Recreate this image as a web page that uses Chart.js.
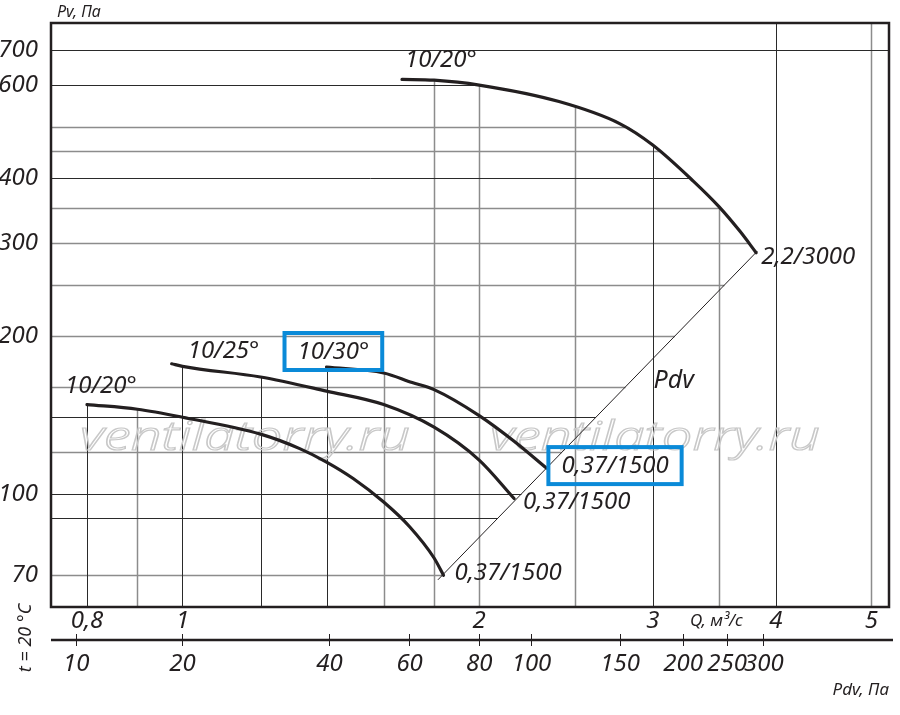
<!DOCTYPE html>
<html>
<head>
<meta charset="utf-8">
<script src="https://cdn.jsdelivr.net/npm/chart.js@4.4.1/dist/chart.umd.min.js"></script>
<style>
  html, body { margin: 0; padding: 0; background: #fff; }
  #wrap { width: 900px; height: 715px; position: relative; }
</style>
</head>
<body>
<div id="wrap"><canvas id="chart"></canvas></div>
<script>
// fan curves: Q, m3/s  ->  Pv, Pa
const qSmall20 = [0.8, 0.9, 1.0, 1.2, 1.315, 1.4, 1.49, 1.6, 1.7, 1.8, 1.84];
const pSmall20 = [148, 145, 140, 130, 122, 115, 107, 96.5, 86.6, 75.5, 70];
const qSmall25 = [0.975, 1.0, 1.2, 1.4, 1.6, 1.8, 2.0, 2.17];
const pSmall25 = [177, 175, 167, 157, 148, 134, 116, 98];
const qSmall30 = [1.4, 1.6, 1.71, 1.8, 2.0, 2.17, 2.34];
const pSmall30 = [174.5, 170, 163, 158, 141, 126, 112];
const qBig20 = [1.67, 1.8, 2.0, 2.41, 2.78, 3.0, 3.3, 3.5, 3.68, 3.82];
const pBig20 = [616, 614, 601, 559, 507, 462, 394, 353, 316, 288];

// dynamic pressure line
const qPdv = [1.816, 3.83];
const pPdv = [68.6, 290];

const curveNames = ['10/20°', '10/25°', '10/30°', '10/20°'];
const motorLabels = ['0,37/1500', '0,37/1500', '0,37/1500', '2,2/3000'];

const qTicks = [0.8, 1, 2, 3, 4, 5];
const pvTicks = [70, 100, 200, 300, 400, 600, 700];
const pdvTicks = [10, 20, 40, 60, 80, 100, 150, 200, 250, 300];
const pdvTickAtQ = [0.78, 1.0, 1.41, 1.70, 2.0, 2.26, 2.78, 3.22, 3.57, 3.89];

const qGridDark = [0.8, 1, 1.2, 1.4, 3, 4];
const qGridLight = [0.9, 1.6, 1.8, 2, 2.5, 3.5, 5];
const pvGridDark = [700, 600, 400, 140, 100, 90];
const pvGridLight = [500, 450, 350, 300, 250, 200, 160, 120, 70];

const INK = '#231f20';
const BLUE = '#0a8ad8';
const FONT = '"Noto Sans", sans-serif';

const pts = (xs, ys) => xs.map((x, i) => ({ x, y: ys[i] }));

// P on a curve at q (straight in log-log between points), null outside
function valueAt(xs, ys, q) {
    const n = xs.length;
    if (q < xs[0] - 1e-6 || q > xs[n - 1] + 1e-6) return null;
    for (let i = 0; i < n - 1; i++) {
        if (q <= xs[i + 1] + 1e-6) {
            const t = (Math.log(q) - Math.log(xs[i])) / (Math.log(xs[i + 1]) - Math.log(xs[i]));
            return Math.exp(Math.log(ys[i]) + t * (Math.log(ys[i + 1]) - Math.log(ys[i])));
        }
    }
    return ys[n - 1];
}

// first Q where a curve reaches level p
function crossingAt(xs, ys, p) {
    for (let i = 0; i < xs.length - 1; i++) {
        const a = ys[i], b = ys[i + 1];
        if (a !== b && (p - a) * (p - b) <= 0) {
            const t = (Math.log(p) - Math.log(a)) / (Math.log(b) - Math.log(a));
            return Math.exp(Math.log(xs[i]) + t * (Math.log(xs[i + 1]) - Math.log(xs[i])));
        }
    }
    return null;
}

function drawText(ctx, s, x, y, size, align, boxed) {
    ctx.save();
    ctx.font = `italic ${size}px ${FONT}`;
    ctx.fillStyle = INK;
    ctx.textAlign = align || 'left';
    ctx.textBaseline = 'middle';
    ctx.fillText(s, x, y);
    if (boxed) {
        const w = ctx.measureText(s).width;
        ctx.strokeStyle = BLUE;
        ctx.lineWidth = 4;
        ctx.strokeRect(x - 13, y - 19, w + 26, 37);
    }
    ctx.restore();
}

const fanCurves = [[qSmall20, pSmall20], [qSmall25, pSmall25], [qSmall30, pSmall30], [qBig20, pBig20]];

// grid lines stop where they meet the curves, as on the original sheet
const clippedGrid = {
    id: 'clippedGrid',
    beforeDatasetsDraw(chart) {
        const { ctx, chartArea: area, scales: { x, y } } = chart;
        ctx.save();
        const style = (dark) => {
            ctx.strokeStyle = dark ? '#2a2a2a' : '#8c8c8c';
            ctx.lineWidth = dark ? 1 : 1.5;
        };
        const vLine = (q, dark) => {
            let top = null;
            fanCurves.forEach(([xs, ys]) => {
                const p = valueAt(xs, ys, q);
                if (p !== null && (top === null || p > top)) top = p;
            });
            const px = Math.round(x.getPixelForValue(q)) + 0.5;
            const yTop = top === null ? area.top : y.getPixelForValue(top);
            style(dark);
            ctx.beginPath();
            ctx.moveTo(px, area.bottom);
            ctx.lineTo(px, yTop);
            ctx.stroke();
        };
        const hLine = (p, dark) => {
            let qEnd = null;
            [[qBig20, pBig20], [qPdv, pPdv]].forEach(([xs, ys]) => {
                const q = crossingAt(xs, ys, p);
                if (q !== null && (qEnd === null || q < qEnd)) qEnd = q;
            });
            const py = Math.round(y.getPixelForValue(p)) + 0.5;
            const xEnd = qEnd === null ? area.right : x.getPixelForValue(qEnd);
            style(dark);
            ctx.beginPath();
            ctx.moveTo(area.left, py);
            ctx.lineTo(xEnd, py);
            ctx.stroke();
        };
        qGridLight.forEach(q => vLine(q, false));
        pvGridLight.forEach(p => hLine(p, false));
        qGridDark.forEach(q => vLine(q, true));
        pvGridDark.forEach(p => hLine(p, true));

        // watermark
        ctx.font = `italic 300 40px ${FONT}`;
        ctx.strokeStyle = '#c8c8c8';
        ctx.lineWidth = 1.2;
        ctx.textBaseline = 'alphabetic';
        const mark = 'ventilatorry.ru';
        const w = ctx.measureText(mark).width;
        [80, 490].forEach(left => {
            ctx.save();
            ctx.translate(left, 450);
            ctx.scale(330 / w, 1);
            ctx.strokeText(mark, 0, 0);
            ctx.restore();
        });
        ctx.restore();
    },
    afterDraw(chart) {
        const { ctx, chartArea: area, scales } = chart;
        ctx.save();
        // frame
        ctx.strokeStyle = INK;
        ctx.lineWidth = 2.5;
        ctx.strokeRect(area.left, area.top, area.right - area.left, area.bottom - area.top);

        // Pdv axis line
        const x2 = scales.x2;
        ctx.lineWidth = 2.5;
        ctx.beginPath();
        ctx.moveTo(area.left, x2.top + 6);
        ctx.lineTo(area.right + 4, x2.top + 6);
        ctx.stroke();
        ctx.restore();

        // curve labels
        chart.data.datasets.forEach((ds, i) => {
            const el = chart.getDatasetMeta(i).data;
            if (!el.length) return;
            if (ds.startLabel) {
                const p = el[0];
                drawText(ctx, ds.startLabel, p.x + ds.startOff[0], p.y + ds.startOff[1], 24, 'left', ds.boxStart);
            }
            if (ds.endLabel) {
                const p = el[el.length - 1];
                drawText(ctx, ds.endLabel, p.x + ds.endOff[0], p.y + ds.endOff[1], 24, 'left', ds.boxEnd);
            }
            if (ds.midLabel) {
                const a = el[0], b = el[el.length - 1];
                const t = ds.midAt;
                drawText(ctx, ds.midLabel, a.x + (b.x - a.x) * t + 24, a.y + (b.y - a.y) * t - 2, 25, 'left');
            }
        });

        // axis captions
        drawText(ctx, 'Pv, Па', area.left + 6, area.top - 11, 16, 'left');
        drawText(ctx, 'Q, м³/с', 690, area.bottom + 14, 17, 'left');
        drawText(ctx, 'Pdv, Па', area.right, 690, 17, 'right');
        ctx.save();
        ctx.translate(26, 638);
        ctx.rotate(-Math.PI / 2);
        drawText(ctx, 't = 20 °C', 0, 0, 18, 'center');
        ctx.restore();
    }
};

const curveStyle = {
    borderColor: INK,
    borderWidth: 3.2,
    borderCapStyle: 'round',
    pointRadius: 0,
    fill: false,
    cubicInterpolationMode: 'monotone'
};

const datasets = [
    { ...curveStyle, data: pts(qSmall20, pSmall20),
      startLabel: curveNames[0], startOff: [-22, -18], endLabel: motorLabels[0], endOff: [11, -2] },
    { ...curveStyle, data: pts(qSmall25, pSmall25),
      startLabel: curveNames[1], startOff: [16, -13], endLabel: motorLabels[1], endOff: [9, 4] },
    { ...curveStyle, data: pts(qSmall30, pSmall30),
      startLabel: curveNames[2], startOff: [-29, -15], boxStart: true,
      endLabel: motorLabels[2], endOff: [15, -2], boxEnd: true },
    { ...curveStyle, data: pts(qBig20, pBig20),
      startLabel: curveNames[3], startOff: [3, -19], endLabel: motorLabels[3], endOff: [5, 4] },
    { data: pts(qPdv, pPdv), borderColor: INK, borderWidth: 1, pointRadius: 0, tension: 0,
      midLabel: 'Pdv', midAt: 0.6 }
];

const tickFont = { family: FONT, size: 24, style: 'italic' };
const Q_MIN = 0.7355, Q_MAX = 5.21;

new Chart(document.getElementById('chart'), {
    type: 'line',
    data: { datasets },
    plugins: [clippedGrid],
    options: {
        responsive: true,
        maintainAspectRatio: false,
        animation: false,
        layout: { padding: { top: 23, right: 11, left: 0, bottom: 0 } },
        plugins: { legend: { display: false }, tooltip: { enabled: false } },
        scales: {
            x: {
                type: 'logarithmic',
                position: 'bottom',
                bounds: 'data',
                weight: 0,
                min: Q_MIN, max: Q_MAX,
                grid: { display: false },
                border: { display: false },
                afterBuildTicks: s => { s.ticks = qTicks.map(v => ({ value: v })); },
                afterFit: s => { s.height = 27; },
                ticks: {
                    autoSkip: false, maxRotation: 0, padding: -8,
                    color: INK, font: tickFont,
                    callback: v => String(v).replace('.', ',')
                }
            },
            x2: {
                type: 'logarithmic',
                position: 'bottom',
                bounds: 'data',
                weight: 1,
                min: Q_MIN, max: Q_MAX,
                grid: { display: true, drawOnChartArea: false, drawTicks: true, tickLength: 12, color: INK, lineWidth: 1 },
                border: { display: false },
                afterBuildTicks: s => { s.ticks = pdvTickAtQ.map(v => ({ value: v })); },
                afterFit: s => { s.height = 81; },
                ticks: {
                    autoSkip: false, maxRotation: 0, padding: 4,
                    color: INK, font: tickFont,
                    callback: (v, i) => String(pdvTicks[i])
                }
            },
            y: {
                type: 'logarithmic',
                bounds: 'data',
                min: 60.9, max: 789,
                grid: { display: false },
                border: { display: false },
                afterBuildTicks: s => { s.ticks = pvTicks.map(v => ({ value: v })); },
                afterFit: s => { s.width = 51; },
                ticks: {
                    autoSkip: false, padding: 5,
                    color: INK, font: tickFont,
                    callback: v => String(v)
                }
            }
        }
    }
});
</script>
</body>
</html>
